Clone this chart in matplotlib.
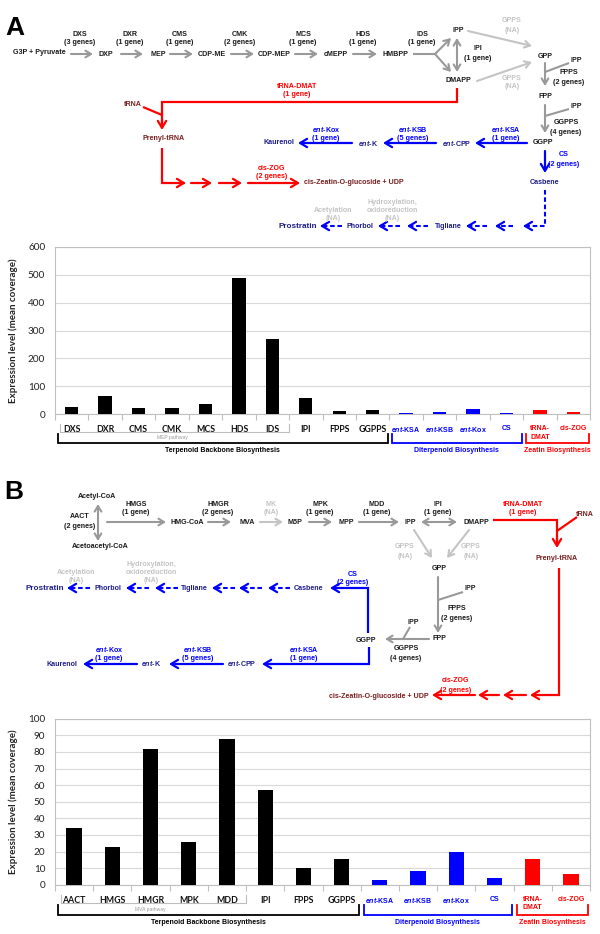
import matplotlib.pyplot as plt
from matplotlib import transforms

plt.rcParams['mathtext.fontset'] = 'custom'
plt.rcParams['mathtext.it'] = 'Liberation Sans:italic:bold'
plt.rcParams['mathtext.rm'] = 'Liberation Sans:bold'
plt.rcParams['mathtext.bf'] = 'Liberation Sans:bold'

# ---- bar chart data ----
genes_a = ['DXS', 'DXR', 'CMS', 'CMK', 'MCS', 'HDS', 'IDS', 'IPI', 'FPPS', 'GGPPS',
           r'$\mathit{ent}$-KSA', r'$\mathit{ent}$-KSB', r'$\mathit{ent}$-Kox', 'CS',
           'tRNA-\nDMAT', 'cis-ZOG']
expr_a = [25, 64, 20, 23, 35, 487, 270, 57, 9, 14, 3, 7, 19, 4, 15, 6]
groups_a = ['tb', 'tb', 'tb', 'tb', 'tb', 'tb', 'tb', 'tb', 'tb', 'tb',
            'dt', 'dt', 'dt', 'dt', 'ze', 'ze']
sub_a = ('MEP pathway', 0, 6)

genes_b = ['AACT', 'HMGS', 'HMGR', 'MPK', 'MDD', 'IPI', 'FPPS', 'GGPPS',
           r'$\mathit{ent}$-KSA', r'$\mathit{ent}$-KSB', r'$\mathit{ent}$-Kox', 'CS',
           'tRNA-\nDMAT', 'cis-ZOG']
expr_b = [34, 22.5, 81.5, 25.5, 88, 57, 10, 15.5, 3, 8, 19.5, 4, 15.5, 6.5]
groups_b = ['tb', 'tb', 'tb', 'tb', 'tb', 'tb', 'tb', 'tb',
            'dt', 'dt', 'dt', 'dt', 'ze', 'ze']
sub_b = ('MVA pathway', 0, 4)

group_names = {'tb': 'Terpenoid Backbone Biosynthesis',
               'dt': 'Diterpenoid Biosynthesis',
               'ze': 'Zeatin Biosynthesis'}

K = '#1a1a1a'
G = '#999999'
LG = '#c4c4c4'
BL = '#0000ff'
NAVY = '#1e1e8c'
R = '#ff0000'
MR = '#7a1f1f'
GCOL = {'tb': '#000000', 'dt': BL, 'ze': R}
FONT = 'Liberation Sans'

fig = plt.figure(figsize=(6, 9.34), dpi=100)
W, H = 600, 934


def bar_panel(top, bottom, genes, vals, groups, ymax, step, sub, ylev):
    ax = fig.add_axes([55 / W, 1 - bottom / H, 535 / W, (bottom - top) / H])
    n = len(genes)
    x = list(range(n))
    ax.bar(x, vals, width=0.4, color=[GCOL[g] for g in groups], zorder=3)
    ax.set_xlim(-0.5, n - 0.5)
    ax.set_ylim(0, ymax)
    ax.set_yticks(list(range(0, ymax + 1, step)))
    ax.yaxis.grid(True, color='#d9d9d9', lw=0.8, zorder=0)
    ax.set_axisbelow(True)
    for s in ax.spines.values():
        s.set_color('#c0c0c0')
        s.set_linewidth(0.8)
    ax.set_xticks([i - 0.5 for i in range(n + 1)])
    ax.set_xticklabels([])
    ax.set_xticks(x, minor=True)
    ax.set_xticklabels(genes, minor=True)
    ax.tick_params(axis='x', which='major', length=4, color='#c0c0c0')
    ax.tick_params(axis='x', which='minor', length=0, pad=8)
    ax.tick_params(axis='y', length=0, pad=7, labelsize=7.2, labelcolor='#222222')
    for lab in ax.get_yticklabels():
        lab.set_fontfamily('Lato')
    for lab, g in zip(ax.get_xticklabels(minor=True), groups):
        if g == 'tb':
            lab.set_fontfamily('Lato')
            lab.set_fontweight('bold')
            lab.set_fontsize(6.3)
            lab.set_color('#111111')
        else:
            lab.set_fontfamily(FONT)
            lab.set_fontweight('bold')
            lab.set_fontsize(5)
            lab.set_color(GCOL[g])
            lab.set_linespacing(1.3)
    ax.set_ylabel('Expression level (mean coverage)', fontsize=7, fontweight='bold',
                  family='Lato', color='#222222')
    ax.yaxis.set_label_coords(-0.069, 0.5)

    tr = transforms.blended_transform_factory(ax.transData, ov.transData)
    y_top, y_bot, y_txt = ylev
    # pathway sub-bracket
    name, i0, i1 = sub
    xs0, xs1 = i0 - 0.35, i1 + 0.5
    ov.plot([xs0, xs0, xs1, xs1], [y_top - 10, y_top - 2, y_top - 2, y_top - 10],
            color='#bdbdbd', lw=0.8, transform=tr, clip_on=False)
    ov.text((i0 + i1) / 2, y_top + 4, name, transform=tr, fontsize=3.6, color='#9a9a9a',
            ha='center', va='center', family=FONT)
    # group brackets
    for g in ['tb', 'dt', 'ze']:
        idx = [i for i, gg in enumerate(groups) if gg == g]
        a0, a1 = idx[0] - 0.42, idx[-1] + 0.46
        ov.plot([a0, a0, a1, a1], [y_top, y_bot, y_bot, y_top], color=GCOL[g], lw=1.3,
                transform=tr, clip_on=False, solid_joinstyle='miter')
        ov.text((a0 + a1) / 2, y_txt, group_names[g], transform=tr, fontsize=5,
                fontweight='bold', color=GCOL[g], ha='center', va='center', family=FONT)
    return ax


# ---- overlay for the pathway diagrams ----
ov = fig.add_axes([0, 0, 1, 1], zorder=5)
ov.set_xlim(0, W)
ov.set_ylim(H, 0)
ov.axis('off')


def t(x, y, s, c=K, fs=5.1, ha='center'):
    ov.text(x, y, s, color=c, fontsize=fs, ha=ha, va='center', fontweight='bold', family=FONT)


def enz(x, y, name, genes, c=K):
    t(x, y, name, c)
    t(x, y + 9, genes, c)


def arrow(p0, p1, c=G, lw=1.5, style='->', hl=0.4, hw=0.24):
    ov.annotate('', xy=p1, xytext=p0,
                arrowprops=dict(arrowstyle='%s,head_length=%s,head_width=%s' % (style, hl, hw),
                                color=c, lw=lw, shrinkA=0, shrinkB=0))


def thick(p0, p1, c):
    arrow(p0, p1, c, lw=1.6, hl=0.5, hw=0.3)


def line(xs, ys, c=G, lw=1.5):
    ov.plot(xs, ys, color=c, lw=lw, solid_joinstyle='miter', solid_capstyle='butt')


def dash_left(x0, x1, y, c=BL):
    ov.plot([x0, x1 + 3], [y, y], color=c, lw=1.5, ls=(0, (2.2, 1.3)))
    thick((x1 + 4, y), (x1, y), c)


# ================= Panel A diagram =================
ov.text(15, 28, 'A', fontsize=19, fontweight='bold', family=FONT, ha='center', va='center')

t(39, 53, 'G3P + Pyruvate')
for x, s in [(106, 'DXP'), (158, 'MEP'), (212, 'CDP-ME'), (274, 'CDP-MEP'),
             (336, 'cMEPP'), (395, 'HMBPP')]:
    t(x, 54, s)
for x, nm, gn in [(80, 'DXS', '(3 genes)'), (130, 'DXR', '(1 gene)'), (180, 'CMS', '(1 gene)'),
                  (240, 'CMK', '(2 genes)'), (303, 'MCS', '(1 gene)'), (363, 'HDS', '(1 gene)'),
                  (422, 'IDS', '(1 gene)')]:
    enz(x, 34, nm, gn)
for x0, x1 in [(71, 93), (121, 143), (170, 193), (231, 254), (295, 318), (353, 377)]:
    arrow((x0, 54), (x1, 54))
line([413, 435], [54, 54])
arrow((435, 54), (451, 38))
arrow((435, 54), (451, 72))
t(458, 31, 'IPP')
t(458, 81, 'DMAPP')
arrow((457, 38), (457, 72), style='<->')
enz(478, 49, 'IPI', '(1 gene)')
enz(512, 21, 'GPPS', '(NA)', LG)
enz(512, 78, 'GPPS', '(NA)', LG)
arrow((468, 31), (532, 46), LG)
arrow((477, 81), (532, 62), LG)
t(545, 56, 'GPP')
t(576, 60, 'IPP')
line([569, 545], [63, 72])
arrow((545, 63), (545, 86))
enz(569, 73, 'FPPS', '(2 genes)')
t(545, 97, 'FPP')
t(576, 106, 'IPP')
line([569, 545], [109, 116])
arrow((545, 105), (545, 133))
enz(566, 123, 'GGPPS', '(4 genes)')
t(543, 143, 'GGPP')
thick((545, 151), (545, 173), BL)
enz(564, 155, 'CS', '(2 genes)', BL)
t(545, 182, 'Casbene', NAVY)
ov.plot([545, 545, 527], [190, 226, 226], color=BL, lw=1.5, ls=(0, (2.2, 1.3)))
thick((527, 226), (523, 226), BL)
dash_left(513, 495, 226)
dash_left(487, 466, 226)
t(448, 226, 'Tigliane', NAVY)
dash_left(428, 407, 226)
dash_left(400, 378, 226)
t(360, 226, 'Phorbol', NAVY)
dash_left(342, 320, 226)
t(298, 226, 'Prostratin', NAVY, fs=5.9)
for dy, s in [(202, 'Hydroxylation,'), (211, 'oxidoreduction'), (219, '(NA)')]:
    t(392, dy, s, LG)
t(333, 210, 'Acetylation', LG)
t(333, 219, '(NA)', LG)

thick((527, 143), (475, 143), BL)
enz(506, 129, r'$\mathit{ent}$-KSA', '(1 gene)', BL)
t(457, 143, r'$\mathit{ent}$-CPP', NAVY)
thick((436, 143), (383, 143), BL)
enz(413, 129, r'$\mathit{ent}$-KSB', '(5 genes)', BL)
t(368, 143, r'$\mathit{ent}$-K', NAVY)
thick((352, 143), (298, 143), BL)
enz(326, 129, r'$\mathit{ent}$-Kox', '(1 gene)', BL)
t(279, 143, 'Kaurenol', NAVY)

enz(297, 86, 'tRNA-DMAT', '(1 gene)', R)
line([457, 457, 162, 162], [88, 102, 102, 124], R, 1.6)
thick((162, 120), (162, 130), R)
t(133, 104, 'tRNA', MR)
line([143, 162], [107, 115], R, 1.6)
t(164, 138, 'Prenyl-tRNA', MR)
line([162, 162, 180], [148, 183, 183], R, 1.6)
thick((178, 183), (186, 183), R)
thick((191, 183), (212, 183), R)
thick((219, 183), (242, 183), R)
thick((248, 183), (300, 183), R)
enz(272, 168, 'cis-ZOG', '(2 genes)', R)
t(354, 183, 'cis-Zeatin-O-glucoside + UDP', MR)

# ================= Panel B diagram =================
ov.text(14, 492, 'B', fontsize=19, fontweight='bold', family=FONT, ha='center', va='center')
t(97, 496, 'Acetyl-CoA')
arrow((98, 504), (98, 541), style='<->')
enz(80, 517, 'AACT', '(2 genes)')
t(100, 547, 'Acetoacetyl-CoA')
arrow((107, 522), (166, 522))
enz(136, 504, 'HMGS', '(1 gene)')
t(187, 522, 'HMG-CoA')
arrow((208, 522), (231, 522))
enz(218, 504, 'HMGR', '(2 genes)')
t(247, 522, 'MVA')
arrow((260, 522), (283, 522), LG)
enz(271, 504, 'MK', '(NA)', LG)
t(295, 522, 'M5P')
arrow((309, 522), (332, 522))
enz(320, 504, 'MPK', '(1 gene)')
t(346, 522, 'MPP')
arrow((359, 522), (399, 522))
enz(377, 504, 'MDD', '(1 gene)')
t(410, 522, 'IPP')
arrow((421, 522), (457, 522), style='<->')
enz(438, 504, 'IPI', '(1 gene)')
t(476, 522, 'DMAPP')

line([493, 557, 557], [520, 520, 542], R, 1.6)
thick((557, 538), (557, 548), R)
enz(523, 504, 'tRNA-DMAT', '(1 gene)', R)
t(585, 514, 'tRNA', MR)
line([577, 557], [517, 531], R, 1.6)
t(557, 558, 'Prenyl-tRNA', MR)

enz(405, 547, 'GPPS', '(NA)', LG)
enz(471, 547, 'GPPS', '(NA)', LG)
arrow((414, 530), (432, 558), LG)
arrow((469, 530), (447, 558), LG)
t(439, 569, 'GPP')
arrow((438, 577), (438, 633))
t(470, 588, 'IPP')
line([463, 438], [592, 600])
enz(457, 609, 'FPPS', '(2 genes)')
t(439, 639, 'FPP')
arrow((429, 639), (385, 639))
t(413, 622, 'IPP')
line([410, 403], [627, 639])
enz(406, 649, 'GGPPS', '(4 genes)')
t(366, 640, 'GGPP')

line([368, 368, 336], [633, 588, 588], BL, 1.6)
thick((338, 588), (330, 588), BL)
enz(353, 574, 'CS', '(2 genes)', BL)
t(309, 588, 'Casbene', NAVY)
dash_left(290, 268, 588)
dash_left(262, 239, 588)
dash_left(235, 212, 588)
t(194, 588, 'Tigliane', NAVY)
dash_left(178, 155, 588)
dash_left(149, 126, 588)
t(108, 588, 'Phorbol', NAVY)
dash_left(90, 67, 588)
t(45, 588, 'Prostratin', NAVY, fs=5.9)
t(76, 572, 'Acetylation', LG)
t(76, 580, '(NA)', LG)
for dy, s in [(564, 'Hydroxylation,'), (573, 'oxidoreduction'), (581, '(NA)')]:
    t(151, dy, s, LG)

line([369, 369, 270], [647, 664, 664], BL, 1.6)
thick((272, 664), (262, 664), BL)
enz(304, 649, r'$\mathit{ent}$-KSA', '(1 gene)', BL)
t(242, 664, r'$\mathit{ent}$-CPP', NAVY)
thick((223, 664), (169, 664), BL)
enz(198, 649, r'$\mathit{ent}$-KSB', '(5 genes)', BL)
t(151, 664, r'$\mathit{ent}$-K', NAVY)
thick((137, 664), (83, 664), BL)
enz(109, 649, r'$\mathit{ent}$-Kox', '(1 gene)', BL)
t(62, 664, 'Kaurenol', NAVY)

line([559, 559, 538], [568, 695, 695], R, 1.6)
thick((540, 695), (530, 695), R)
thick((526, 695), (503, 695), R)
thick((499, 695), (478, 695), R)
thick((475, 695), (432, 695), R)
enz(456, 681, 'cis-ZOG', '(2 genes)', R)
t(379, 696, 'cis-Zeatin-O-glucoside + UDP', MR)

# ================= bar charts =================
bar_panel(247, 414, genes_a, expr_a, groups_a, 600, 100, sub_a, (434, 443, 451))
bar_panel(718.7, 884.7, genes_b, expr_b, groups_b, 100, 10, sub_b, (905, 915, 922))

fig.savefig('out.png', dpi=100)
